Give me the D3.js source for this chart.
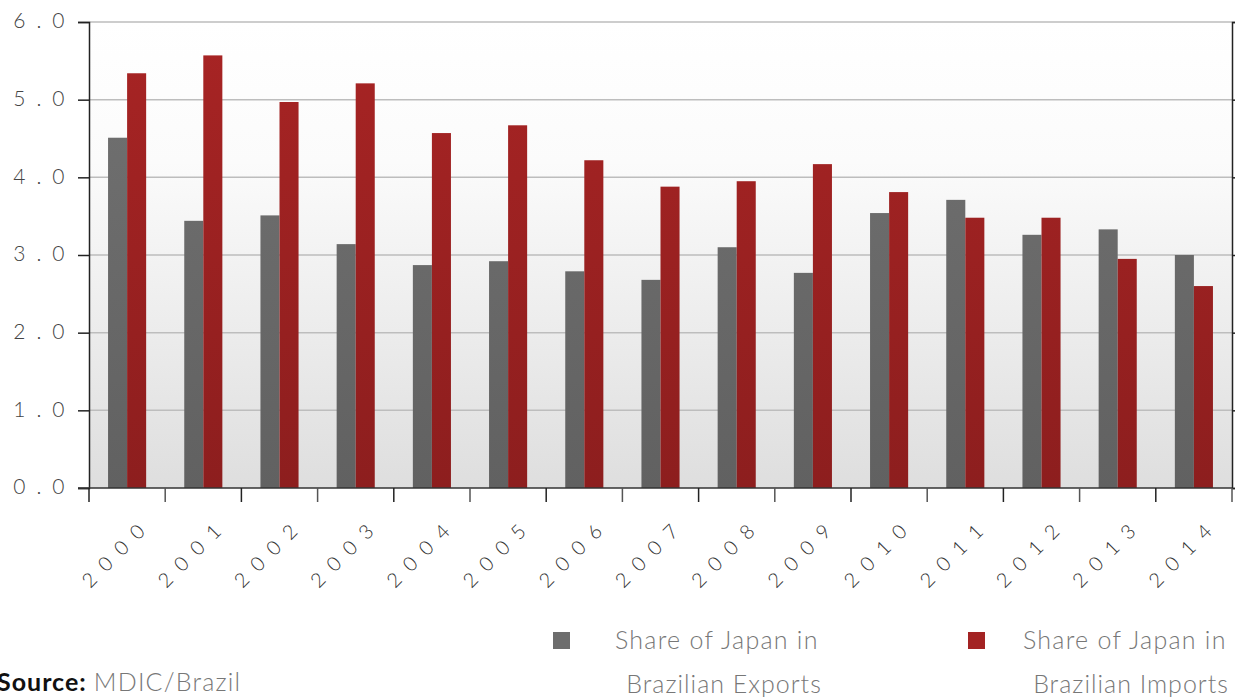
<!DOCTYPE html>
<html>
<head>
<meta charset="utf-8">
<script src="https://cdn.jsdelivr.net/npm/d3@7"></script>
<style>
  body { margin: 0; background: #fff; }
  svg { display: block; }
</style>
</head>
<body>
<div id="chart"></div>
<script>
// Data
const years = ["2000","2001","2002","2003","2004","2005","2006","2007","2008","2009","2010","2011","2012","2013","2014"];
const exportsShare = [4.51, 3.44, 3.51, 3.14, 2.87, 2.92, 2.79, 2.68, 3.10, 2.77, 3.54, 3.71, 3.26, 3.33, 3.00];
const importsShare = [5.34, 5.57, 4.97, 5.21, 4.57, 4.67, 4.22, 3.88, 3.95, 4.17, 3.81, 3.48, 3.48, 2.95, 2.60];
const yTicks = [0, 1, 2, 3, 4, 5, 6];
const seriesNames = ["Share of Japan in|Brazilian Exports", "Share of Japan in|Brazilian Imports"];

const W = 1235, H = 697;
const margin = { top: 22, right: 3, bottom: 209, left: 89 };
const width = W - margin.left - margin.right;
const height = H - margin.top - margin.bottom;

const svgRoot = d3.select("#chart").append("svg")
    .attr("width", W)
    .attr("height", H);

// Gradients
const defs = svgRoot.append("defs");
const bg = defs.append("linearGradient").attr("id", "bgGrad")
    .attr("x1", 0).attr("y1", 0).attr("x2", 0).attr("y2", 1);
bg.append("stop").attr("offset", "0%").attr("stop-color", "#ffffff");
bg.append("stop").attr("offset", "30%").attr("stop-color", "#fbfbfb");
bg.append("stop").attr("offset", "100%").attr("stop-color", "#dedede");

function barGrad(id, c1, c2) {
    const g = defs.append("linearGradient").attr("id", id)
        .attr("gradientUnits", "userSpaceOnUse")
        .attr("x1", 0).attr("y1", 0).attr("x2", 0).attr("y2", height);
    g.append("stop").attr("offset", "0%").attr("stop-color", c1);
    g.append("stop").attr("offset", "100%").attr("stop-color", c2);
}
barGrad("grayGrad", "#727272", "#616161");
barGrad("redGrad", "#a82424", "#8d1e1e");

const svg = svgRoot.append("g")
    .attr("transform", `translate(${margin.left}, ${margin.top})`);

// Scales
const x0 = d3.scaleBand().domain(years).range([0, width]).paddingInner(0).paddingOuter(0);
const x1 = d3.scaleBand().domain([0, 1]).range([x0.bandwidth() * 0.25, x0.bandwidth() * 0.75]);
const y = d3.scaleLinear().domain([0, 6]).range([height, 0]);

// Background
svg.append("rect")
    .attr("width", width).attr("height", height)
    .attr("fill", "url(#bgGrad)");

// Gridlines
svg.selectAll(".grid")
    .data(yTicks.filter(d => d > 0))
    .enter().append("line")
    .attr("x1", 0).attr("x2", width)
    .attr("y1", d => y(d)).attr("y2", d => y(d))
    .attr("stroke", "#bdbdbd").attr("stroke-width", 1.5);

// Bars
const groups = svg.selectAll(".year")
    .data(years)
    .enter().append("g")
    .attr("transform", d => `translate(${x0(d)},0)`);

groups.append("rect")
    .attr("x", x1(0)).attr("width", x1.bandwidth())
    .attr("y", (d, i) => y(exportsShare[i]))
    .attr("height", (d, i) => height - y(exportsShare[i]))
    .attr("fill", "url(#grayGrad)");

groups.append("rect")
    .attr("x", x1(1)).attr("width", x1.bandwidth())
    .attr("y", (d, i) => y(importsShare[i]))
    .attr("height", (d, i) => height - y(importsShare[i]))
    .attr("fill", "url(#redGrad)");

// Left axis
const yAxis = d3.axisLeft(y).tickValues(yTicks).tickSize(11).tickPadding(11)
    .tickFormat(d => d3.format(".1f")(d).split("").join(" "));
const gy = svg.append("g").call(yAxis);
gy.select(".domain").attr("stroke", "#222").attr("stroke-width", 1.5);
gy.selectAll(".tick line").attr("stroke", "#222").attr("stroke-width", 1.5);
gy.selectAll(".tick text")
    .attr("font-family", "Lato, sans-serif")
    .attr("font-weight", 300)
    .attr("font-size", 21)
    .attr("letter-spacing", 2.6)
    .attr("fill", "#444")
    .attr("dy", "0.28em");

// Right axis (ticks only)
const gr = svg.append("g").attr("transform", `translate(${width},0)`)
    .call(d3.axisRight(y).tickValues(yTicks).tickSize(8).tickFormat(""));
gr.select(".domain").attr("stroke", "#222").attr("stroke-width", 1.5);
gr.selectAll(".tick line").attr("stroke", "#222").attr("stroke-width", 1.5);

// Bottom axis: ticks at category boundaries
const boundaries = d3.range(years.length + 1).map(i => i * x0.step());
svg.append("line")
    .attr("x1", -11).attr("x2", width)
    .attr("y1", height).attr("y2", height)
    .attr("stroke", "#333").attr("stroke-width", 1.5);
svg.selectAll(".xtick")
    .data(boundaries)
    .enter().append("line")
    .attr("x1", d => d).attr("x2", d => d)
    .attr("y1", height).attr("y2", height + 14)
    .attr("stroke", (d, i) => i % 2 ? "#555" : "#222")
    .attr("stroke-width", 1.5);

svg.selectAll(".xlabel")
    .data(years)
    .enter().append("text")
    .attr("transform", d => `translate(${x0(d) + x0.bandwidth() / 2 + 27}, ${height + 37}) rotate(-45)`)
    .attr("text-anchor", "end")
    .attr("font-family", "Lato, sans-serif")
    .attr("font-weight", 300)
    .attr("font-size", 20)
    .attr("letter-spacing", 11)
    .attr("fill", "#333")
    .text(d => d);

// Legend
const legendColors = ["#6d6d6d", "#a32323"];
const legendX = [553, 968];
const legendTextX = [615, 1023];
const legendLine2X = [724, 1131];
seriesNames.forEach((name, i) => {
    const lg = svgRoot.append("g");
    lg.append("rect")
        .attr("x", legendX[i]).attr("y", 632)
        .attr("width", 17).attr("height", 17)
        .attr("fill", legendColors[i]);
    const lines = name.split("|");
    lg.append("text")
        .attr("x", legendTextX[i]).attr("y", 649)
        .attr("font-family", "Lato, sans-serif")
        .attr("font-weight", 300)
        .attr("font-size", 25)
        .attr("letter-spacing", 1.25)
        .attr("fill", "#777")
        .text(lines[0]);
    lg.append("text")
        .attr("x", legendLine2X[i]).attr("y", 693)
        .attr("text-anchor", "middle")
        .attr("font-family", "Lato, sans-serif")
        .attr("font-weight", 300)
        .attr("font-size", 25)
        .attr("letter-spacing", 1.0)
        .attr("fill", "#777")
        .text(lines[1]);
});

// Source note
const src = svgRoot.append("text")
    .attr("x", -3).attr("y", 691)
    .attr("font-family", "Lato, sans-serif")
    .attr("font-size", 25);
src.append("tspan").attr("font-weight", 700).attr("fill", "#111").attr("letter-spacing", 1).text("Source: ");
src.append("tspan").attr("font-weight", 300).attr("fill", "#777").attr("letter-spacing", 1.2).text("MDIC/Brazil");
</script>
</body>
</html>
